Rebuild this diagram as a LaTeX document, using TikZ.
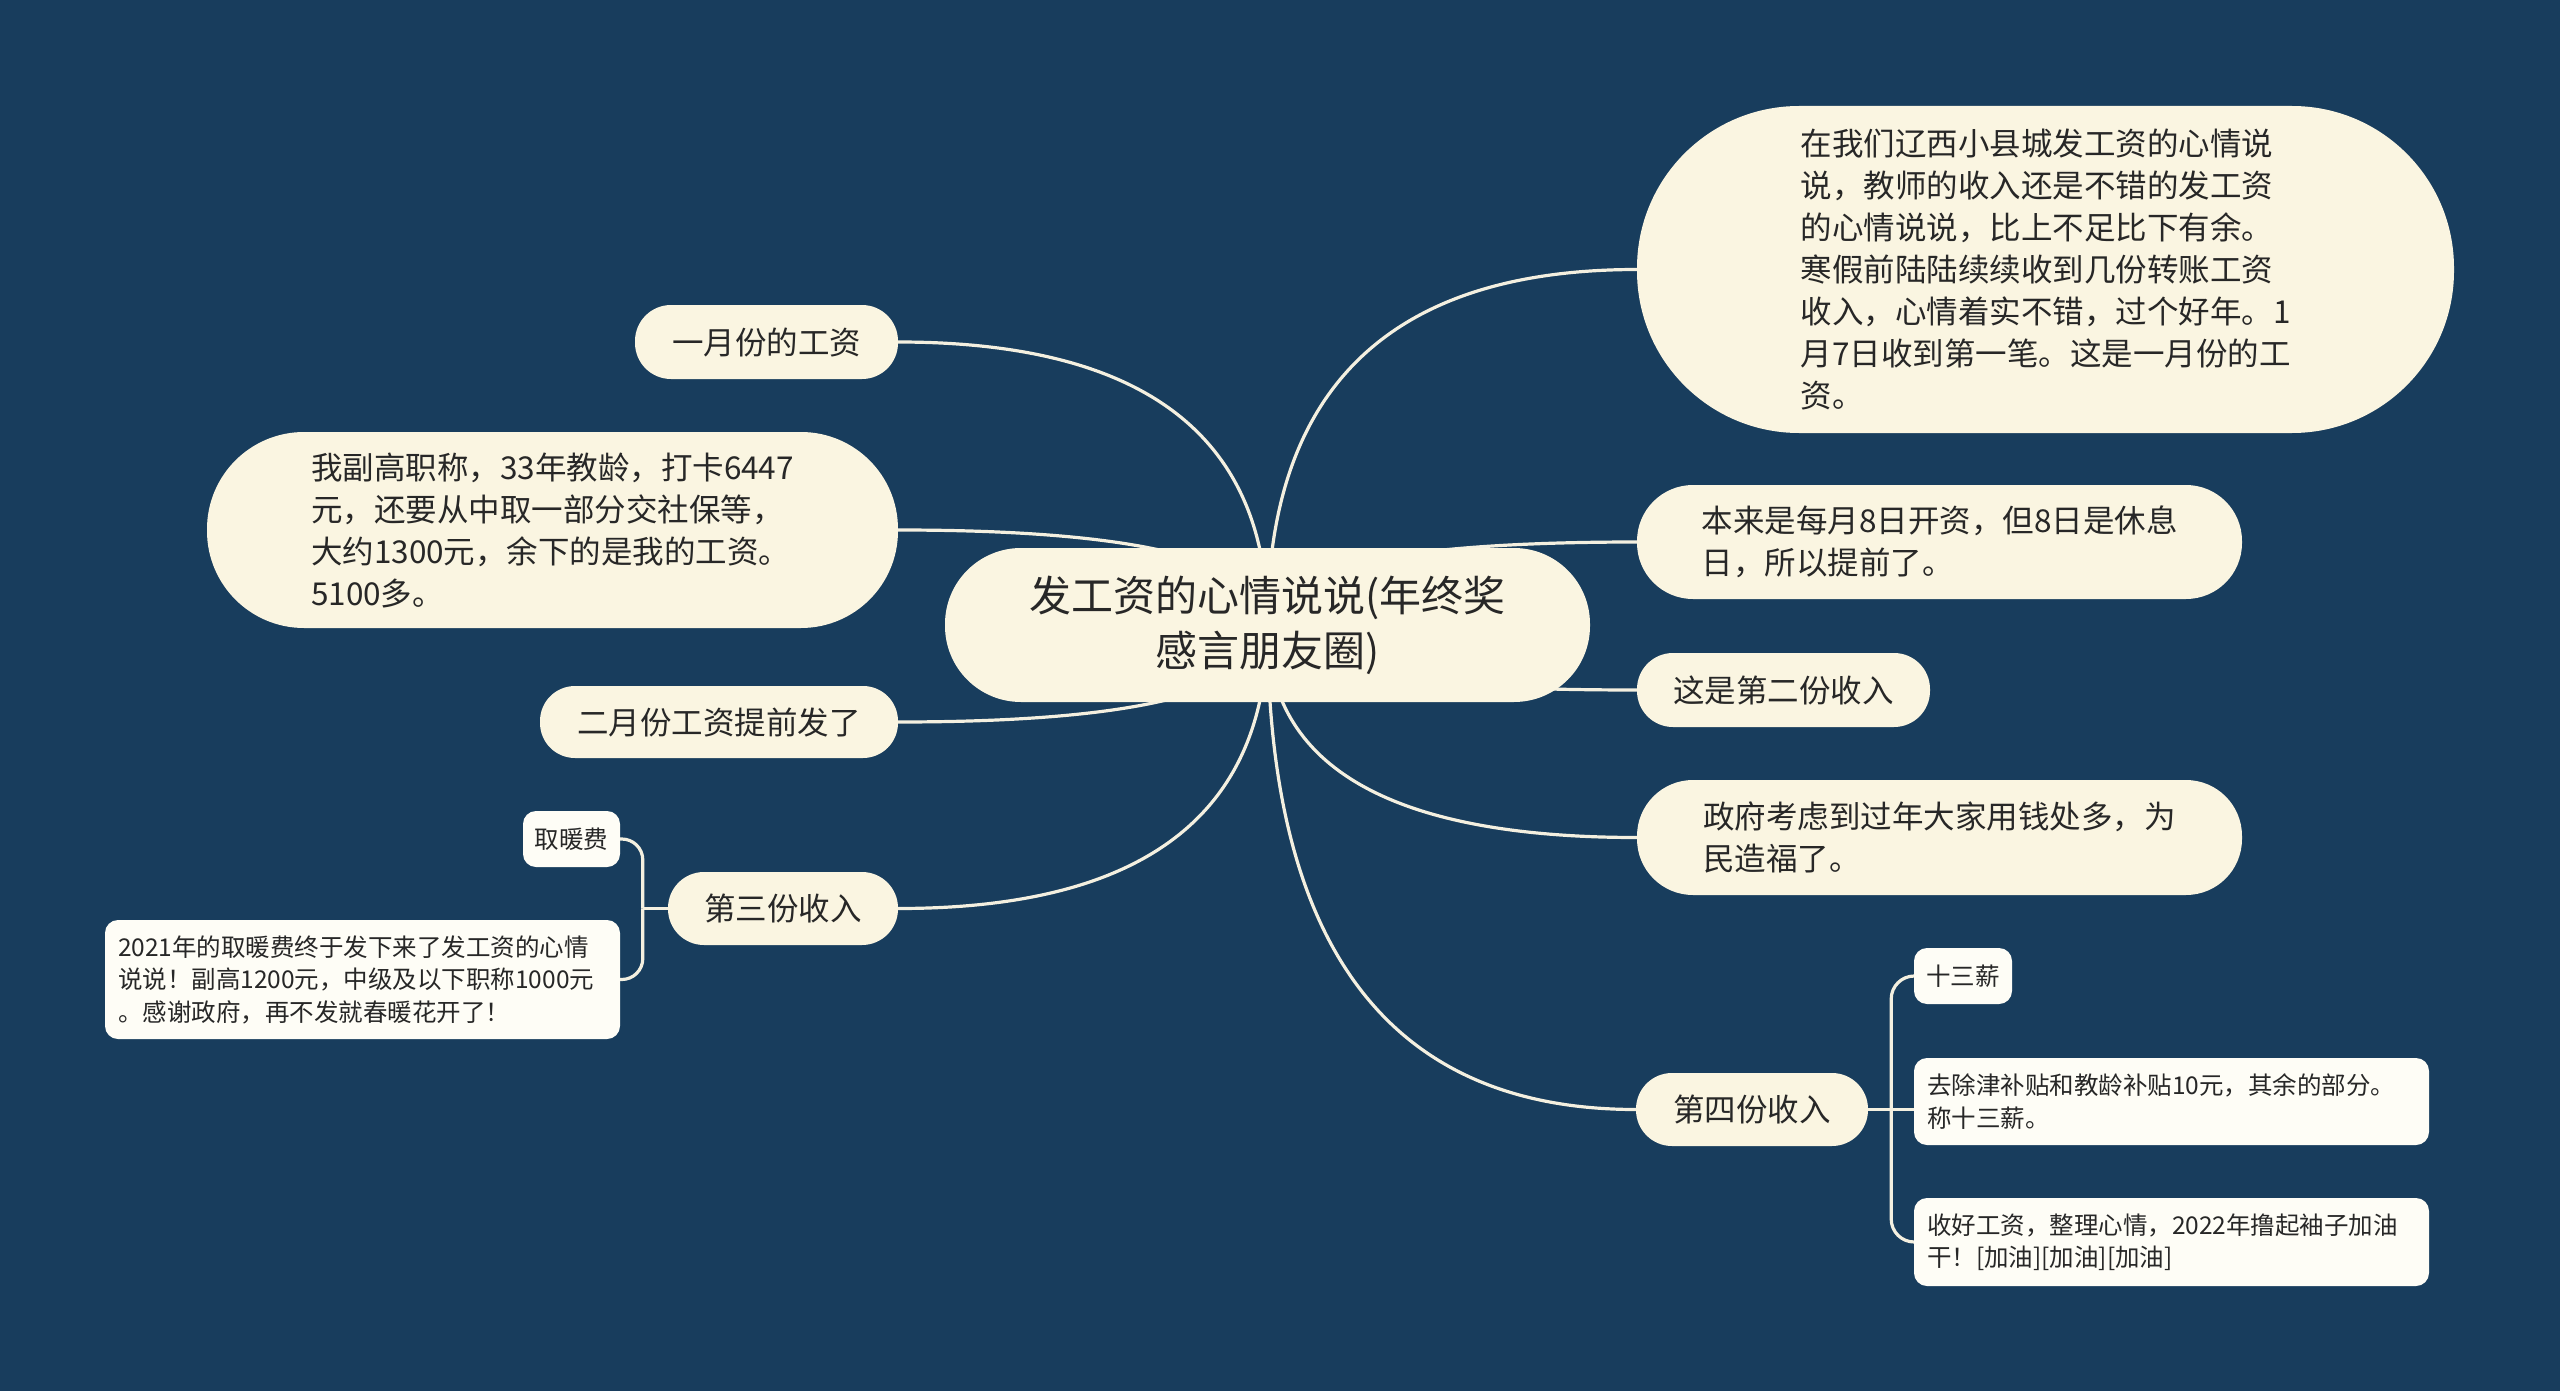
\documentclass[tikz,border=0pt]{standalone}
\usepackage{fontspec}
\newfontfamily\cjk{Noto Sans CJK SC}
\usetikzlibrary{calc}
\definecolor{bgc}{HTML}{183D5D}
\definecolor{mfill}{HTML}{FAF5E1}
\definecolor{lfill}{HTML}{FEFDF6}
\definecolor{txt}{HTML}{272727}
\definecolor{lnc}{HTML}{F4F0E0}
\pgfdeclarelayer{bgl}
\pgfdeclarelayer{lines}
\pgfsetlayers{bgl,lines,main}
\newcommand\mmcurve[1]{\draw[conn] (ctr.center) .. controls ($(ctr.center)!0.667!(ctr.center |- #1)$) and ($(#1)!0.667!(ctr.center |- #1)$) .. (#1);}
\begin{document}
\begin{tikzpicture}[x=1pt,y=-1pt,
  conn/.style={draw=lnc, line width=3.2pt},
  ctrbox/.style={fill=mfill, text=txt, inner sep=0pt, align=center, font=\cjk\fontsize{42}{55}\selectfont},
  mbox/.style={fill=mfill, text=txt, inner sep=0pt, align=left, font=\cjk\fontsize{31.5}{42}\selectfont},
  lbox/.style={fill=lfill, text=txt, inner sep=0pt, align=left, rounded corners=13pt, font=\cjk\fontsize{24.5}{32.5}\selectfont}]
\begin{pgfonlayer}{bgl}
\fill[bgc] (0,0) rectangle (2560,1391);
\end{pgfonlayer}
\useasboundingbox (0,0) rectangle (2560,1391);

% center
\node[ctrbox, minimum width=645pt, minimum height=154pt, rounded corners=76pt] (ctr) at (1267.5,625) {发工资的心情说说(年终奖\\感言朋友圈)};

% right side
\node[mbox, minimum width=817pt, minimum height=327pt, rounded corners=162pt] (r1) at (2045.5,269.5) {在我们辽西小县城发工资的心情说\\说，教师的收入还是不错的发工资\\的心情说说，比上不足比下有余。\\寒假前陆陆续续收到几份转账工资\\收入，心情着实不错，过个好年。1\\月7日收到第一笔。这是一月份的工\\资。};
\node[mbox, minimum width=605pt, minimum height=114pt, rounded corners=56pt] (r2) at (1939.5,542) {本来是每月8日开资，但8日是休息\\日，所以提前了。};
\node[mbox, minimum width=293pt, minimum height=74pt, rounded corners=36pt] (r3) at (1783.5,690) {这是第二份收入};
\node[mbox, minimum width=605pt, minimum height=115pt, rounded corners=56pt] (r4) at (1939.5,837.5) {政府考虑到过年大家用钱处多，为\\民造福了。};
\node[mbox, minimum width=232pt, minimum height=73pt, rounded corners=36pt] (r5) at (1752,1109.5) {第四份收入};
\node[lbox, minimum width=98pt, minimum height=56pt, align=center] (c1) at (1963,976) {十三薪};
\node[lbox, minimum width=515pt, minimum height=87pt, text width=489pt] (c2) at (2171.5,1101.5) {去除津补贴和教龄补贴10元，其余的部分。\\称十三薪。};
\node[lbox, minimum width=515pt, minimum height=88pt, text width=489pt] (c3) at (2171.5,1242) {收好工资，整理心情，2022年撸起袖子加油\\干！[加油][加油][加油]};

% left side
\node[mbox, minimum width=263pt, minimum height=74pt, rounded corners=36pt] (l1) at (766.5,342) {一月份的工资};
\node[mbox, minimum width=691pt, minimum height=196pt, rounded corners=97pt] (l2) at (552.5,530) {我副高职称，33年教龄，打卡6447\\元，还要从中取一部分交社保等，\\大约1300元，余下的是我的工资。\\5100多。};
\node[mbox, minimum width=358pt, minimum height=72pt, rounded corners=35pt] (l3) at (719,722) {二月份工资提前发了};
\node[mbox, minimum width=230pt, minimum height=73pt, rounded corners=36pt] (l4) at (783,908.5) {第三份收入};
\node[lbox, minimum width=97pt, minimum height=56pt, align=center] (k1) at (571.5,839) {取暖费};
\node[lbox, minimum width=515pt, minimum height=119pt, text width=489pt] (k2) at (362.5,979.5) {2021年的取暖费终于发下来了发工资的心情\\说说！副高1200元，中级及以下职称1000元\\。感谢政府，再不发就春暖花开了！};

% connectors
\begin{pgfonlayer}{lines}
\mmcurve{r1.west}
\mmcurve{r2.west}
\mmcurve{r3.west}
\mmcurve{r4.west}
\mmcurve{r5.west}
\mmcurve{l1.east}
\mmcurve{l2.east}
\mmcurve{l3.east}
\mmcurve{l4.east}
\coordinate (j4) at ($(r5.east)+(23,0)$);
\draw[conn] (r5.east) -- (j4) -- (j4 -| c2.west);
\draw[conn, rounded corners=23pt] (c1.west) -| (j4);
\draw[conn, rounded corners=23pt] (c3.west) -| (j4);
\coordinate (j3) at ($(l4.west)+(-25,0)$);
\draw[conn] (l4.west) -- (j3);
\draw[conn, rounded corners=21pt] (k1.east) -| (j3);
\draw[conn, rounded corners=21pt] (k2.east) -| (j3);
\end{pgfonlayer}
\end{tikzpicture}
\end{document}
